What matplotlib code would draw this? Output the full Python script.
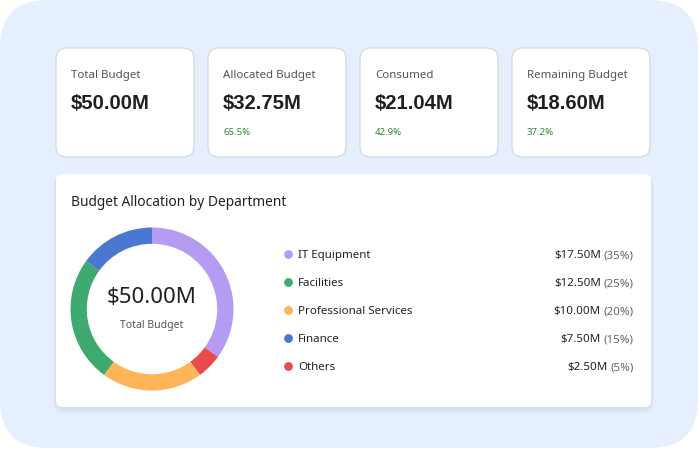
import matplotlib
matplotlib.use("Agg")
import matplotlib.pyplot as plt
from matplotlib.patches import FancyBboxPatch

# card data
card_titles = ["Total Budget", "Allocated Budget", "Consumed", "Remaining Budget"]
card_values = ["$50.00M", "$32.75M", "$21.04M", "$18.60M"]
card_pcts = ["", "65.5%", "42.9%", "37.2%"]

# department data (legend order)
departments = ["IT Equipment", "Facilities", "Professional Services", "Finance", "Others"]
amounts = [17.5, 12.5, 10.0, 7.5, 2.5]
shares = [35, 25, 20, 15, 5]
dept_colors = ["#b49cf3", "#3faa6f", "#fdb557", "#4a78d0", "#e94b4d"]
# clockwise order of the slices, starting at 12 o'clock
pie_order = [0, 4, 2, 1, 3]

total_label = "$50.00M"

W, H = 698, 450
fig = plt.figure(figsize=(W / 100, H / 100), dpi=100)
fig.patch.set_facecolor("white")
ax = fig.add_axes([0, 0, 1, 1])
ax.set_xlim(0, W)
ax.set_ylim(H, 0)
ax.axis("off")

SANS = ["Noto Sans", "DejaVu Sans"]
BOLD = ["Liberation Sans", "DejaVu Sans"]


def rbox(x, y, w, h, r, fc, ec="none", lw=0, z=1, alpha=1.0):
    p = FancyBboxPatch((x + r, y + r), w - 2 * r, h - 2 * r,
                       boxstyle=f"round,pad={r}", fc=fc, ec=ec, lw=lw,
                       zorder=z, alpha=alpha)
    ax.add_patch(p)
    return p


# outer background
rbox(0, 0, W, 448, 48, "#e5effd", z=0)

# cards
card_x = [56, 208, 360, 512]
for i in range(4):
    x = card_x[i]
    rbox(x, 48, 138, 109, 11, "white", ec="#d5d9df", lw=0.9, z=2)
    ax.text(x + 15, 75.5, card_titles[i], fontsize=8.3, color="#555555",
            family=SANS, va="center", zorder=3)
    ax.text(x + 15, 103.5, card_values[i], fontsize=14.6, color="#1f1f1f",
            family=BOLD, weight="bold", va="center", zorder=3)
    if card_pcts[i]:
        ax.text(x + 15, 132.5, card_pcts[i], fontsize=6.9, color="#2a8a3c",
                family=SANS, va="center", zorder=3)

# main panel with soft shadow
for k, a in [(6, 0.03), (4, 0.04), (2, 0.06)]:
    rbox(56 - k / 2, 174 + 1, 595 + k, 233 + k, 6 + k, "#7a8aa0", z=1, alpha=a)
rbox(56, 174, 595, 233, 6, "white", z=2)
ax.text(71, 202.5, "Budget Allocation by Department", fontsize=9.9,
        color="#222222", family=SANS, va="center", zorder=3)

# legend rows
row_y = [254, 282, 310, 338, 366]
renderer = fig.canvas.get_renderer()
for i, name in enumerate(departments):
    y = row_y[i] + 4
    ax.scatter([288], [row_y[i]], s=40, color=dept_colors[i], zorder=3, linewidths=0)
    ax.text(298, y, name, fontsize=8.3, color="#222222", family=SANS,
            va="baseline", zorder=3)
    pct = ax.text(634, y, f"({shares[i]}%)", fontsize=8.3, color="#666666",
                  family=SANS, va="baseline", ha="right", zorder=3)
    wpx = pct.get_window_extent(renderer).width
    ax.text(634 - wpx - 3, y, f"${amounts[i]:.2f}M", fontsize=8.3,
            color="#222222", family=SANS, va="baseline", ha="right", zorder=3)

# donut
cx, cy, r = 152, 309, 81.5
pax = fig.add_axes([(cx - r) / W, (H - cy - r) / H, 2 * r / W, 2 * r / H])
pax.pie([shares[j] for j in pie_order],
        colors=[dept_colors[j] for j in pie_order],
        startangle=90, counterclock=False, radius=1,
        wedgeprops=dict(width=0.2, linewidth=0))
pax.set_xlim(-1, 1)
pax.set_ylim(-1, 1)
pax.set_aspect("equal")
pax.axis("off")
pax.text(0, 0.14, total_label, fontsize=16, color="#1f1f1f", family=SANS,
         ha="center", va="center")
pax.text(0, -0.2, "Total Budget", fontsize=7.5, color="#555555",
         family=SANS, ha="center", va="center")

fig.savefig("out.png", dpi=100, facecolor="white")
